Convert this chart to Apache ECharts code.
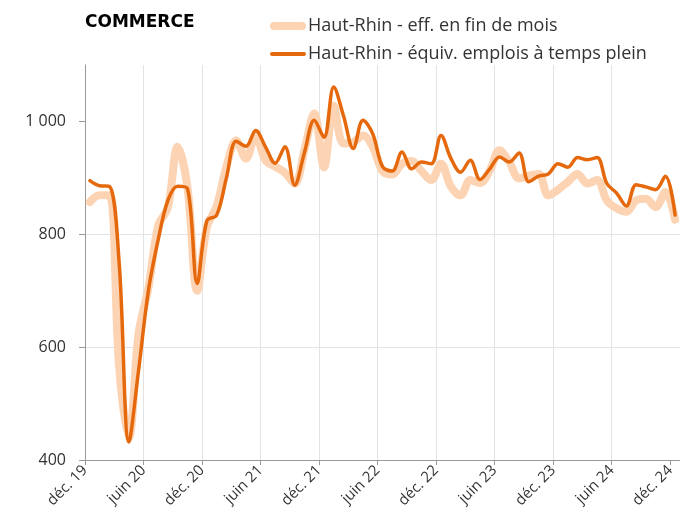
<!DOCTYPE html>
<html>
<head>
<meta charset="utf-8">
<script src="https://cdn.jsdelivr.net/npm/echarts@6/dist/echarts.min.js"></script>
<style>
  html, body { margin: 0; padding: 0; background: #fff; }
  #main { width: 680px; height: 526px; }
</style>
</head>
<body>
<div id="main"></div>
<script>
// mois de déc. 19 à déc. 24 (61 points)
var effFinMois = [
    857, 869, 869, 565, 440, 625, 705, 815, 848, 955, 884, 700,
    813, 850, 920, 966, 934, 975, 931, 920, 909, 890, 950, 1014,
    919, 1028, 961, 963, 975, 955, 912, 906, 925, 930, 912, 896,
    925, 885, 869, 896, 891, 913, 949, 928, 899, 904, 907, 869,
    879, 893, 907, 890, 896, 860, 846, 840, 860, 863, 848, 875,
    826
];
var equivTempsPlein = [
    895, 886, 885, 750, 432, 560, 700, 790, 860, 885, 881, 713,
    824, 834, 900, 965, 956, 984, 955, 926, 955, 887, 945, 1002,
    972, 1061, 1010, 952, 1002, 978, 920, 912, 946, 916, 928, 925,
    975, 935, 910, 931, 897, 916, 937, 928, 944, 893, 903, 907,
    925, 919, 936, 932, 936, 890, 873, 850, 888, 884, 879, 903,
    834
];
var xTickLabels = ['déc. 19', 'juin 20', 'déc. 20', 'juin 21', 'déc. 21', 'juin 22',
    'déc. 22', 'juin 23', 'déc. 23', 'juin 24', 'déc. 24'];
var yTicks = [400, 600, 800, 1000];

var xTicks = xTickLabels.map(function (l, i) { return i * 6; });

function toPoints(arr) {
    // point au milieu du mois
    return arr.map(function (v, i) { return [i + 0.5, v]; });
}

var nomEff = 'Haut-Rhin - eff. en fin de mois';
var nomEtp = 'Haut-Rhin - équiv. emplois à temps plein';

var myChart = echarts.init(document.getElementById('main'));

var option = {
    animation: false,
    textStyle: { fontFamily: 'Open Sans' },
    title: {
        text: 'COMMERCE',
        left: 80,
        top: 9,
        textStyle: { fontFamily: 'DejaVu Sans', fontWeight: 'bold', fontSize: 17, color: '#000' }
    },
    legend: {
        orient: 'vertical',
        left: 265,
        top: 12,
        itemWidth: 36,
        itemHeight: 14,
        itemGap: 10,
        symbolKeepAspect: true,
        textStyle: { fontSize: 18, color: '#333', padding: [0, 0, 0, -3] },
        data: [
            { name: nomEff, icon: 'path://M4,0 H32 A4,4 0 0 1 32,8 H4 A4,4 0 0 1 4,0 Z' },
            { name: nomEtp, icon: 'path://M2,0 H34 A2,2 0 0 1 34,4 H2 A2,2 0 0 1 2,0 Z' }
        ]
    },
    grid: { left: 85, right: 0, top: 65, bottom: 66 },
    xAxis: {
        type: 'value',
        min: 0,
        max: 61,
        interval: 6,
        axisLine: { lineStyle: { color: '#999' } },
        axisTick: { length: 5, lineStyle: { color: '#999' }, customValues: xTicks },
        axisLabel: {
            rotate: 45,
            fontSize: 15,
            color: '#333',
            margin: 8,
            customValues: xTicks,
            formatter: function (v) { return xTickLabels[Math.round(v / 6)]; }
        },
        splitLine: { show: true, showMaxLine: false, lineStyle: { color: '#e3e3e3' } }
    },
    yAxis: {
        type: 'value',
        min: 400,
        max: 1100,
        interval: 200,
        axisLine: { show: true, lineStyle: { color: '#999' } },
        axisTick: { show: true, length: 6, lineStyle: { color: '#999' }, customValues: yTicks },
        axisLabel: {
            fontSize: 16,
            color: '#333',
            margin: 19,
            customValues: yTicks,
            formatter: function (v) { return String(v).replace(/\B(?=(\d{3})+$)/g, ' '); }
        },
        splitLine: { show: true, showMaxLine: false, showMinLine: false, lineStyle: { color: '#e3e3e3' } }
    },
    series: [
        {
            name: nomEff,
            type: 'line',
            smooth: 0.35,
            symbol: 'none',
            data: toPoints(effFinMois),
            lineStyle: { width: 8, color: '#fcd3b3', cap: 'round', join: 'round' },
            itemStyle: { color: '#fcd3b3' }
        },
        {
            name: nomEtp,
            type: 'line',
            smooth: 0.35,
            symbol: 'none',
            data: toPoints(equivTempsPlein),
            lineStyle: { width: 3.5, color: '#e5690c', cap: 'round', join: 'round' },
            itemStyle: { color: '#e5690c' }
        }
    ]
};

myChart.setOption(option);
</script>
</body>
</html>
